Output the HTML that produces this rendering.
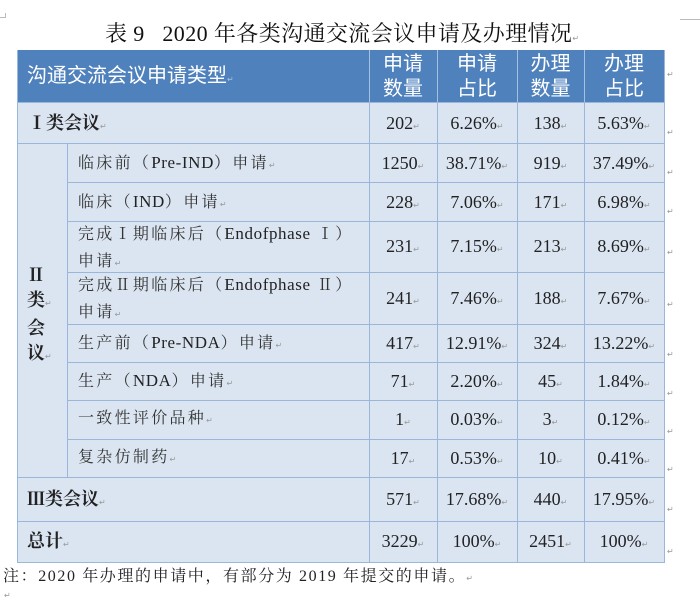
<!DOCTYPE html>
<html><head><meta charset="utf-8">
<style>
html,body{margin:0;padding:0;background:#fff;}
body{width:700px;height:603px;position:relative;overflow:hidden;font-family:"Liberation Serif","Noto Serif CJK SC",serif;color:#222;}
.a{position:absolute;white-space:nowrap;}
.bg{position:absolute;}
.h{position:absolute;height:1px;background:#9ab6da;}
.v{position:absolute;width:1px;background:#9ab6da;}
.pm{font-family:"DejaVu Sans",sans-serif;font-size:8px;color:#999;font-weight:normal;letter-spacing:0;}
.hd{color:#fff;font-family:"Liberation Sans","Noto Sans CJK SC",sans-serif;font-size:20px;}
.hc{position:absolute;top:52px;height:50px;text-align:center;line-height:25px;color:#fff;font-family:"Liberation Sans","Noto Sans CJK SC",sans-serif;font-size:20px;}
.lab{position:absolute;left:78px;font-size:16px;letter-spacing:2.3px;color:#333;white-space:nowrap;}
.lt{font-family:"Liberation Serif",serif;font-size:17px;letter-spacing:0.6px;color:#222;}
.num{position:absolute;text-align:center;font-size:18px;color:#222;white-space:nowrap;}
.bold{font-weight:bold;font-size:18px;}
.em{position:absolute;left:667px;}
</style></head><body>

<!-- crop marks -->
<div class="bg" style="left:0;top:17px;width:5px;height:1px;background:#bbb"></div>
<div class="bg" style="left:5px;top:13px;width:1px;height:5px;background:#bbb"></div>
<div class="bg" style="left:680px;top:19px;width:20px;height:1px;background:#bbb"></div>

<!-- title -->
<div class="a" style="left:105px;top:20px;font-size:22px;line-height:28px;color:#111;letter-spacing:0.4px;">表 9&nbsp;&nbsp;&nbsp;2020 年各类沟通交流会议申请及办理情况<span class="pm">↵</span></div>

<!-- backgrounds -->
<div class="bg" style="left:17px;top:50px;width:647px;height:52px;background:#4f81bd"></div>
<div class="bg" style="left:17px;top:102px;width:647px;height:460px;background:#dbe5f1"></div>

<!-- header separators -->
<div class="v" style="left:369px;top:50px;height:52px;background:#a7c0e0"></div>
<div class="v" style="left:437px;top:50px;height:52px;background:#a7c0e0"></div>
<div class="v" style="left:517px;top:50px;height:52px;background:#a7c0e0"></div>
<div class="v" style="left:584px;top:50px;height:52px;background:#a7c0e0"></div>

<!-- body lines -->
<div class="h" style="left:17px;top:102px;width:647px;"></div>
<div class="h" style="left:17px;top:143px;width:647px;"></div>
<div class="h" style="left:67px;top:182px;width:597px;"></div>
<div class="h" style="left:67px;top:221px;width:597px;"></div>
<div class="h" style="left:67px;top:272px;width:597px;"></div>
<div class="h" style="left:67px;top:324px;width:597px;"></div>
<div class="h" style="left:67px;top:362px;width:597px;"></div>
<div class="h" style="left:67px;top:400px;width:597px;"></div>
<div class="h" style="left:67px;top:439px;width:597px;"></div>
<div class="h" style="left:17px;top:477px;width:647px;"></div>
<div class="h" style="left:17px;top:521px;width:647px;"></div>
<div class="h" style="left:17px;top:562px;width:648px;"></div>
<div class="v" style="left:17px;top:50px;height:513px;"></div>
<div class="v" style="left:664px;top:50px;height:513px;"></div>
<div class="v" style="left:67px;top:143px;height:334px;"></div>
<div class="v" style="left:369px;top:102px;height:460px;"></div>
<div class="v" style="left:437px;top:102px;height:460px;"></div>
<div class="v" style="left:517px;top:102px;height:460px;"></div>
<div class="v" style="left:584px;top:102px;height:460px;"></div>

<!-- header text -->
<div class="a hd" style="left:27px;top:63px;line-height:26px;">沟通交流会议申请类型<span class="pm" style="color:#a9c0e0">↵</span></div>
<div class="hc" style="left:369px;width:68px;">申请<br>数量</div>
<div class="hc" style="left:437px;width:80px;">申请<br>占比</div>
<div class="hc" style="left:517px;width:67px;">办理<br>数量</div>
<div class="hc" style="left:584px;width:80px;">办理<br>占比</div>
<div class="a pm em" style="top:70px;">↵</div>

<!-- row Ⅰ -->
<div class="a bold" style="left:28px;top:110px;line-height:26px;">Ⅰ类会议<span class="pm">↵</span></div>

<!-- Ⅱ 类 会 议 -->
<div class="a bold" style="left:27px;top:263px;line-height:25px;white-space:normal;width:30px;">Ⅱ<br>类<span class="pm">↵</span><br>会<br>议<span class="pm">↵</span></div>

<!-- labels -->
<div class="lab" style="top:150px;line-height:26px;">临床前（<span class="lt">Pre-IND</span>）申请<span class="pm">↵</span></div>
<div class="lab" style="top:189px;line-height:26px;">临床（<span class="lt">IND</span>）申请<span class="pm">↵</span></div>
<div class="lab" style="top:220px;line-height:27px;">完成Ⅰ期临床后（<span class="lt">Endofphase</span> Ⅰ）<br>申请<span class="pm">↵</span></div>
<div class="lab" style="top:271px;line-height:27px;">完成Ⅱ期临床后（<span class="lt">Endofphase</span> Ⅱ）<br>申请<span class="pm">↵</span></div>
<div class="lab" style="top:330px;line-height:26px;">生产前（<span class="lt">Pre-NDA</span>）申请<span class="pm">↵</span></div>
<div class="lab" style="top:368px;line-height:26px;">生产（<span class="lt">NDA</span>）申请<span class="pm">↵</span></div>
<div class="lab" style="top:406px;line-height:26px;">一致性评价品种<span class="pm">↵</span></div>
<div class="lab" style="top:445px;line-height:26px;">复杂仿制药<span class="pm">↵</span></div>
<div class="a bold" style="left:27px;top:486px;line-height:26px;">Ⅲ类会议<span class="pm">↵</span></div>
<div class="a bold" style="left:27px;top:528px;line-height:26px;">总计<span class="pm">↵</span></div>

<!-- numbers -->
<div class="num" style="left:369px;width:68px;top:110px;line-height:26px;">202<span class="pm">↵</span></div>
<div class="num" style="left:437px;width:80px;top:110px;line-height:26px;">6.26%<span class="pm">↵</span></div>
<div class="num" style="left:517px;width:67px;top:110px;line-height:26px;">138<span class="pm">↵</span></div>
<div class="num" style="left:584px;width:80px;top:110px;line-height:26px;">5.63%<span class="pm">↵</span></div>
<div class="a pm em" style="top:128px;">↵</div>

<div class="num" style="left:369px;width:68px;top:150px;line-height:26px;">1250<span class="pm">↵</span></div>
<div class="num" style="left:437px;width:80px;top:150px;line-height:26px;">38.71%<span class="pm">↵</span></div>
<div class="num" style="left:517px;width:67px;top:150px;line-height:26px;">919<span class="pm">↵</span></div>
<div class="num" style="left:584px;width:80px;top:150px;line-height:26px;">37.49%<span class="pm">↵</span></div>
<div class="a pm em" style="top:168px;">↵</div>

<div class="num" style="left:369px;width:68px;top:189px;line-height:26px;">228<span class="pm">↵</span></div>
<div class="num" style="left:437px;width:80px;top:189px;line-height:26px;">7.06%<span class="pm">↵</span></div>
<div class="num" style="left:517px;width:67px;top:189px;line-height:26px;">171<span class="pm">↵</span></div>
<div class="num" style="left:584px;width:80px;top:189px;line-height:26px;">6.98%<span class="pm">↵</span></div>
<div class="a pm em" style="top:207px;">↵</div>

<div class="num" style="left:369px;width:68px;top:233px;line-height:26px;">231<span class="pm">↵</span></div>
<div class="num" style="left:437px;width:80px;top:233px;line-height:26px;">7.15%<span class="pm">↵</span></div>
<div class="num" style="left:517px;width:67px;top:233px;line-height:26px;">213<span class="pm">↵</span></div>
<div class="num" style="left:584px;width:80px;top:233px;line-height:26px;">8.69%<span class="pm">↵</span></div>
<div class="a pm em" style="top:248px;">↵</div>

<div class="num" style="left:369px;width:68px;top:285px;line-height:26px;">241<span class="pm">↵</span></div>
<div class="num" style="left:437px;width:80px;top:285px;line-height:26px;">7.46%<span class="pm">↵</span></div>
<div class="num" style="left:517px;width:67px;top:285px;line-height:26px;">188<span class="pm">↵</span></div>
<div class="num" style="left:584px;width:80px;top:285px;line-height:26px;">7.67%<span class="pm">↵</span></div>
<div class="a pm em" style="top:300px;">↵</div>

<div class="num" style="left:369px;width:68px;top:330px;line-height:26px;">417<span class="pm">↵</span></div>
<div class="num" style="left:437px;width:80px;top:330px;line-height:26px;">12.91%<span class="pm">↵</span></div>
<div class="num" style="left:517px;width:67px;top:330px;line-height:26px;">324<span class="pm">↵</span></div>
<div class="num" style="left:584px;width:80px;top:330px;line-height:26px;">13.22%<span class="pm">↵</span></div>
<div class="a pm em" style="top:350px;">↵</div>

<div class="num" style="left:369px;width:68px;top:368px;line-height:26px;">71<span class="pm">↵</span></div>
<div class="num" style="left:437px;width:80px;top:368px;line-height:26px;">2.20%<span class="pm">↵</span></div>
<div class="num" style="left:517px;width:67px;top:368px;line-height:26px;">45<span class="pm">↵</span></div>
<div class="num" style="left:584px;width:80px;top:368px;line-height:26px;">1.84%<span class="pm">↵</span></div>
<div class="a pm em" style="top:389px;">↵</div>

<div class="num" style="left:369px;width:68px;top:406px;line-height:26px;">1<span class="pm">↵</span></div>
<div class="num" style="left:437px;width:80px;top:406px;line-height:26px;">0.03%<span class="pm">↵</span></div>
<div class="num" style="left:517px;width:67px;top:406px;line-height:26px;">3<span class="pm">↵</span></div>
<div class="num" style="left:584px;width:80px;top:406px;line-height:26px;">0.12%<span class="pm">↵</span></div>
<div class="a pm em" style="top:427px;">↵</div>

<div class="num" style="left:369px;width:68px;top:445px;line-height:26px;">17<span class="pm">↵</span></div>
<div class="num" style="left:437px;width:80px;top:445px;line-height:26px;">0.53%<span class="pm">↵</span></div>
<div class="num" style="left:517px;width:67px;top:445px;line-height:26px;">10<span class="pm">↵</span></div>
<div class="num" style="left:584px;width:80px;top:445px;line-height:26px;">0.41%<span class="pm">↵</span></div>
<div class="a pm em" style="top:465px;">↵</div>

<div class="num" style="left:369px;width:68px;top:486px;line-height:26px;">571<span class="pm">↵</span></div>
<div class="num" style="left:437px;width:80px;top:486px;line-height:26px;">17.68%<span class="pm">↵</span></div>
<div class="num" style="left:517px;width:67px;top:486px;line-height:26px;">440<span class="pm">↵</span></div>
<div class="num" style="left:584px;width:80px;top:486px;line-height:26px;">17.95%<span class="pm">↵</span></div>
<div class="a pm em" style="top:505px;">↵</div>

<div class="num" style="left:369px;width:68px;top:528px;line-height:26px;">3229<span class="pm">↵</span></div>
<div class="num" style="left:437px;width:80px;top:528px;line-height:26px;">100%<span class="pm">↵</span></div>
<div class="num" style="left:517px;width:67px;top:528px;line-height:26px;">2451<span class="pm">↵</span></div>
<div class="num" style="left:584px;width:80px;top:528px;line-height:26px;">100%<span class="pm">↵</span></div>
<div class="a pm em" style="top:547px;">↵</div>

<!-- note -->
<div class="a" style="left:3px;top:565px;font-size:16px;line-height:24px;letter-spacing:1.6px;color:#222;">注：2020 年办理的申请中，有部分为 2019 年提交的申请。<span class="pm">↵</span></div>
<div class="a pm" style="left:4px;top:591px;">↵</div>

</body></html>
